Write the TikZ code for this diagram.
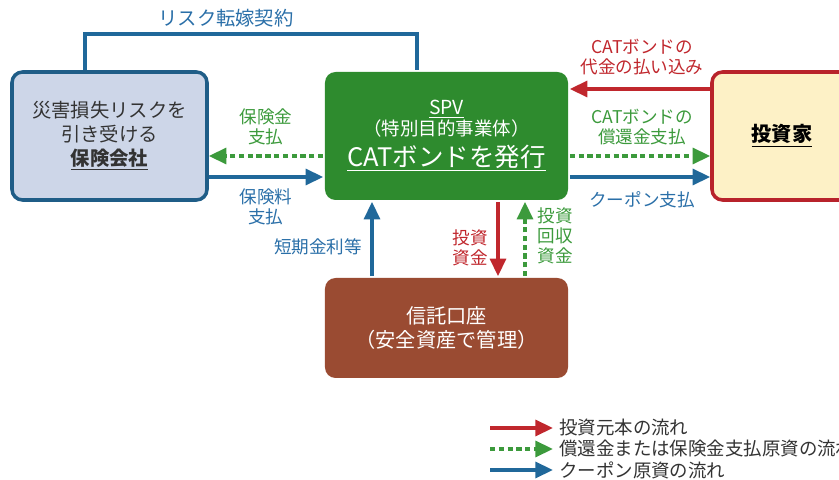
\documentclass[tikz,border=0pt]{standalone}
\usepackage{fontspec}
\setmainfont{Noto Sans CJK JP}
\usetikzlibrary{arrows.meta,calc}
\definecolor{lineblue}{HTML}{20689A}
\definecolor{textblue}{HTML}{2A6FA8}
\definecolor{linegreen}{HTML}{3C9A3C}
\definecolor{linered}{HTML}{C0272D}
\definecolor{spvgreen}{HTML}{2E8B2E}
\definecolor{trustbrown}{HTML}{9A4B32}
\definecolor{insfill}{HTML}{CDD6E8}
\definecolor{insdraw}{HTML}{1F5D87}
\definecolor{invfill}{HTML}{FDF1C6}
\definecolor{invdraw}{HTML}{B8232B}
\newcommand{\lbl}{\fontsize{10}{11.5}\selectfont}
\begin{document}
\begin{tikzpicture}[x=0.2mm,y=-0.2mm,
    box/.style={rectangle, rounded corners=6pt, line width=2pt, align=center, inner sep=0pt},
    bluearrow/.style={line width=2pt, draw=lineblue, -{Triangle[length=10pt,width=9pt]}},
    redarrow/.style={line width=2pt, draw=linered, -{Triangle[length=10pt,width=9pt]}},
    greenarrow/.style={line width=2pt, draw=linegreen, dash pattern=on 3pt off 2pt,
        -{Triangle[length=10pt,width=9pt]}},
    bluetext/.style={text=textblue, font=\lbl, align=center},
    greentext/.style={text=linegreen, font=\lbl, align=center},
    redtext/.style={text=linered, font=\lbl, align=center},
    legtext/.style={anchor=west, font=\fontsize{10.5}{12}\selectfont, text=black!80}]
    \useasboundingbox (0,0) rectangle (839,480);
    % Boxes
    \node[box, fill=insfill, draw=insdraw, text=black!80, minimum width=3.9cm, minimum height=2.56cm,
        font=\fontsize{11}{13.6}\selectfont] (ins) at (109.5,136)
        {災害損失リスクを\\引き受ける\\\textbf{\underline{保険会社}}};
    \node[box, fill=spvgreen, text=white, minimum width=4.86cm, minimum height=2.56cm] (spv) at (446.5,136)
        {{\fontsize{11}{14}\selectfont\underline{SPV}}\\[0pt]
         {\fontsize{10.5}{13}\selectfont （特別目的事業体）}\\[3pt]
         {\fontsize{14.5}{16}\selectfont\underline{CATボンドを発行}}};
    \node[box, fill=invfill, draw=invdraw, minimum width=2.8cm, minimum height=2.56cm,
        font=\fontsize{11.5}{13}\selectfont] (inv) at (782,136) {\textbf{\underline{投資家}}};
    \node[box, fill=trustbrown, text=white, minimum width=4.86cm, minimum height=2cm,
        font=\fontsize{11.5}{14}\selectfont] (trust) at (446.5,328) {信託口座\\（安全資産で管理）};
    % Risk transfer contract
    \draw[line width=2pt, draw=lineblue] ($(ins.north)+(-24.5,0)$) -- ++(0,-36) -| ($(spv.north)+(-29.5,0)$);
    \node[text=textblue, font=\fontsize{11}{13}\selectfont] (contract) at (226,18) {リスク転嫁契約};
    % Insurer <-> SPV
    \draw[greenarrow] ($(spv.west)+(0,20)$) -- node[greentext, midway, shift={(0,-29)}] {保険金\\支払} ($(ins.east)+(0,20)$);
    \draw[bluearrow] ($(ins.east)+(0,41)$) -- node[bluetext, midway, shift={(0,30)}] {保険料\\支払} ($(spv.west)+(0,41)$);
    % SPV <-> investor
    \draw[redarrow] ($(inv.west)+(0,-47)$) -- node[redtext, midway, shift={(2,-32)}] {CATボンドの\\代金の払い込み} ($(spv.east)+(0,-47)$);
    \draw[greenarrow] ($(spv.east)+(0,20)$) -- node[greentext, midway, shift={(2,-29)}] {CATボンドの\\償還金支払} ($(inv.west)+(0,20)$);
    \draw[bluearrow] ($(spv.east)+(0,41)$) -- node[bluetext, midway, shift={(2,23)}] {クーポン支払} ($(inv.west)+(0,41)$);
    % SPV <-> trust account
    \draw[bluearrow] ($(trust.north)+(-74.5,0)$) -- node[bluetext, midway, shift={(-54,8)}] {短期金利等} ($(spv.south)+(-74.5,0)$);
    \draw[redarrow] ($(spv.south)+(51.5,0)$) -- node[redtext, midway, shift={(-28,9)}] {投資\\資金} ($(trust.north)+(51.5,0)$);
    \draw[greenarrow] ($(trust.north)+(78.5,0)$) -- node[greentext, midway, shift={(30,-3)}] {投資\\回収\\資金} ($(spv.south)+(78.5,0)$);
    % Legend
    \node[legtext] (leg1) at (553,428) {投資元本の流れ};
    \node[legtext] (leg2) at (553,449) {償還金または保険金支払原資の流れ};
    \node[legtext] (leg3) at (553,470) {クーポン原資の流れ};
    \coordinate (leg1s) at (490,428);
    \coordinate (leg2s) at (490,449);
    \coordinate (leg3s) at (490,470);
    \draw[redarrow] (leg1s) -- (leg1.west);
    \draw[greenarrow] (leg2s) -- (leg2.west);
    \draw[bluearrow] (leg3s) -- (leg3.west);
\end{tikzpicture}
\end{document}
